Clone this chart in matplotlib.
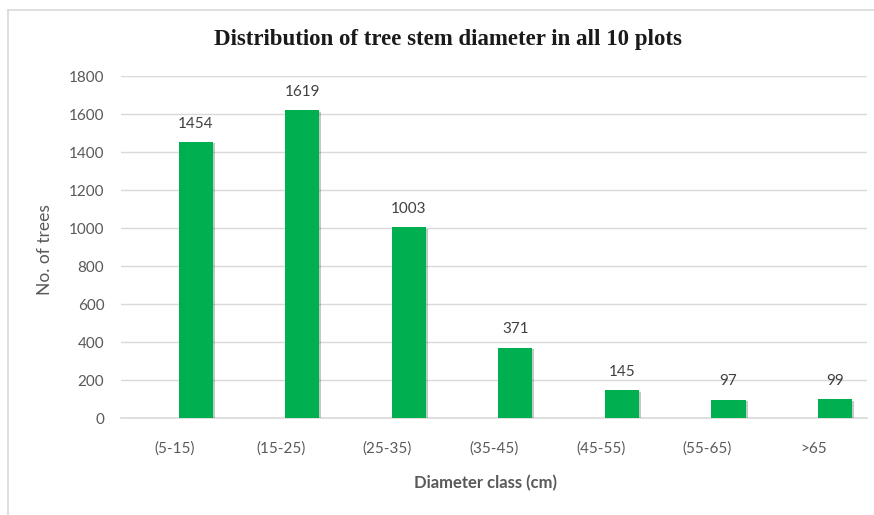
import matplotlib
matplotlib.use("Agg")
import matplotlib.pyplot as plt
import matplotlib.patheffects as pe

categories = ["(5-15)", "(15-25)", "(25-35)", "(35-45)", "(45-55)", "(55-65)", ">65"]
values = [1454, 1619, 1003, 371, 145, 97, 99]
yticks = [0, 200, 400, 600, 800, 1000, 1200, 1400, 1600, 1800]

W, H = 874, 515
fig = plt.figure(figsize=(W/100, H/100), dpi=100)
fig.patch.set_facecolor("white")

# chart border
fig.add_artist(plt.Line2D([8/W, 8/W], [0, 1 - 10/H], color="#d9d9d9", lw=1.2, transform=fig.transFigure))
fig.add_artist(plt.Line2D([8/W, 1], [1 - 10/H, 1 - 10/H], color="#d9d9d9", lw=1.2, transform=fig.transFigure))

left, right = 121/W, 867/W
bottom, top = 1 - 418/H, 1 - 76/H
ax = fig.add_axes([left, bottom, right - left, top - bottom])

x = list(range(len(categories)))
offset = 0.2
bx = [xi + offset for xi in x]
ax.bar(bx, values, width=0.32, color="#00B050", zorder=3,
       path_effects=[pe.SimplePatchShadow(offset=(1.5, -1), alpha=0.25), pe.Normal()])
ax.set_xlim(-0.5, len(categories) - 0.5)
ax.set_ylim(0, 1800)
ax.set_yticks(yticks)
ax.set_yticklabels([str(v) for v in yticks])
ax.set_xticks(x)
ax.set_xticklabels(categories)

for s in ["top", "right", "left"]:
    ax.spines[s].set_visible(False)
ax.spines["bottom"].set_color("#d9d9d9")
ax.spines["bottom"].set_linewidth(1.2)
ax.yaxis.grid(True, color="#d9d9d9", lw=1.0, zorder=0)
ax.tick_params(axis="both", length=0, labelsize=11, labelcolor="#595959")
ax.tick_params(axis="y", pad=12)
ax.tick_params(axis="x", pad=17)
for lab in ax.get_xticklabels() + ax.get_yticklabels():
    lab.set_fontfamily("Lato")

for xi, v in zip(bx, values):
    ax.annotate(str(v), (xi, v), xytext=(0, 8), textcoords="offset points",
                ha="center", va="bottom", fontsize=11, color="#404040", family="Lato")

fig.text(448/W, 1 - 40/H, "Distribution of tree stem diameter in all 10 plots",
         ha="center", va="center", fontsize=16.5, fontweight="bold",
         family="Liberation Serif", color="#1a1a1a")
fig.text(45/W, 1 - 250/H, "No. of trees", rotation=90, ha="center", va="center",
         fontsize=12.5, color="#595959", family="Lato")
fig.text(485/W, 1 - 483/H, "Diameter class (cm)", ha="center", va="center",
         fontsize=12, fontweight="bold", color="#595959", family="Lato")

fig.savefig("out.png", dpi=100, facecolor="white")
